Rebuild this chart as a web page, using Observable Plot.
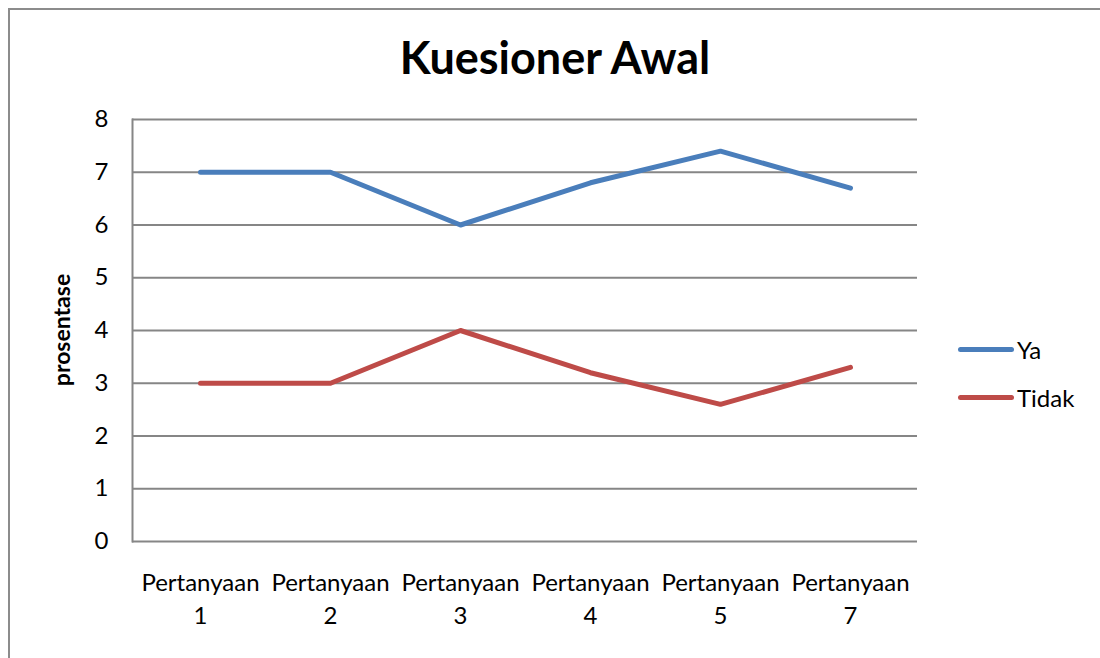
<!DOCTYPE html>
<html>
<head>
<meta charset="utf-8">
<script src="https://cdn.jsdelivr.net/npm/d3@7"></script>
<script src="https://cdn.jsdelivr.net/npm/@observablehq/plot@0.6"></script>
<style>
  html, body { margin: 0; padding: 0; background: #fff; }
  #wrap { position: relative; width: 1100px; height: 658px; overflow: hidden; font-family: Lato, "Open Sans", sans-serif; }
  #border { position: absolute; left: 8px; top: 8px; width: 1200px; height: 800px; border: 2px solid #8c8c8c; box-sizing: border-box; }
  #title { position: absolute; left: 0; width: 1110px; top: 30px; text-align: center; font-weight: bold; font-size: 45px; color: #000; }
  #ylabel { position: absolute; left: 61px; top: 330px; transform: translate(-50%, -50%) rotate(-90deg); font-weight: bold; font-size: 23px; white-space: nowrap; }
  .leg { position: absolute; left: 958px; font-size: 24px; display: flex; align-items: center; }
  .leg span.sw { display: inline-block; width: 56px; height: 5px; border-radius: 3px; margin-right: 3px; }
  #chart { position: absolute; left: 0; top: 0; }
</style>
</head>
<body>
<div id="wrap">
  <div id="border"></div>
  <div id="chart"></div>
  <div id="title">Kuesioner Awal</div>
  <div id="ylabel">prosentase</div>
  <div id="legend"></div>
</div>
<script>
const categories = ["Pertanyaan 1", "Pertanyaan 2", "Pertanyaan 3", "Pertanyaan 4", "Pertanyaan 5", "Pertanyaan 7"];
const seriesNames = ["Ya", "Tidak"];
const yaValues = [7, 7, 6, 6.8, 7.4, 6.7];
const tidakValues = [3, 3, 4, 3.2, 2.6, 3.3];
const yTicks = [0, 1, 2, 3, 4, 5, 6, 7, 8];
const colors = ["#4A7EBB", "#BE4B48"];

const data = [];
categories.forEach((c, i) => {
  data.push({cat: c, series: "Ya", value: yaValues[i]});
  data.push({cat: c, series: "Tidak", value: tidakValues[i]});
});

const plot = Plot.plot({
  width: 1100,
  height: 658,
  marginLeft: 132,
  marginRight: 183,
  marginTop: 119,
  marginBottom: 117,
  style: {fontFamily: "Lato, 'Open Sans', sans-serif", background: "transparent"},
  x: {type: "point", domain: categories, padding: 0.5},
  y: {domain: [0, 8]},
  color: {domain: seriesNames, range: colors},
  marks: [
    Plot.ruleY(yTicks, {stroke: "#868686", strokeWidth: 2, strokeOpacity: 1}),
    Plot.frame({anchor: "left", stroke: "#868686", strokeWidth: 2, strokeOpacity: 1}),
    Plot.axisY({ticks: yTicks, tickSize: 0, tickPadding: 24, fontSize: 24, label: null, fill: "#000"}),
    Plot.axisX({tickSize: 0, tickPadding: 26, fontSize: 24, lineHeight: 1.38, label: null, fill: "#000",
      tickFormat: d => d.replace(" ", "\n")}),
    Plot.lineY(data, {x: "cat", y: "value", z: "series", stroke: "series", strokeWidth: 5, strokeLinecap: "round", strokeLinejoin: "round"})
  ]
});
document.getElementById("chart").appendChild(plot);

const legend = document.getElementById("legend");
seriesNames.forEach((s, i) => {
  const d = document.createElement("div");
  d.className = "leg";
  d.style.top = (335 + i * 48) + "px";
  d.innerHTML = `<span class="sw" style="background:${colors[i]}"></span>${s}`;
  legend.appendChild(d);
});
</script>
</body>
</html>
